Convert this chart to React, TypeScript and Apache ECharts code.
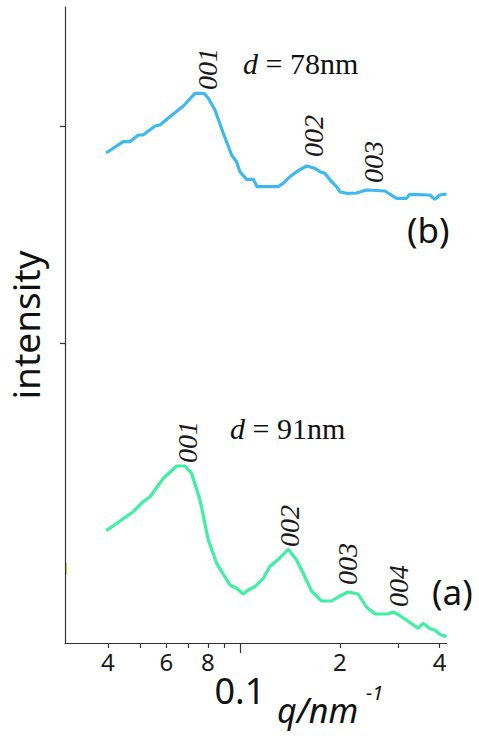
import React, { useEffect, useRef } from "react";
import * as echarts from "echarts";

// ---- data (q in nm^-1, intensity in arbitrary offset units) ----
const qB = [0.0395, 0.0445, 0.0466, 0.0494, 0.0511, 0.0555, 0.0574, 0.0602, 0.0675, 0.0732, 0.0779, 0.0803, 0.0841, 0.0891, 0.0944, 0.0977, 0.1, 0.1047, 0.1097, 0.1127, 0.1304, 0.135, 0.1415, 0.1482, 0.1588, 0.1682, 0.1742, 0.1803, 0.1889, 0.1956, 0.2001, 0.2096, 0.2247, 0.2407, 0.2734, 0.2965, 0.3178, 0.3252, 0.3735, 0.3867, 0.4004, 0.4195];
const yB = [4.9, 5.013, 5.013, 5.08, 5.08, 5.17, 5.18, 5.237, 5.37, 5.497, 5.497, 5.447, 5.33, 5.097, 4.88, 4.813, 4.713, 4.637, 4.637, 4.563, 4.563, 4.597, 4.663, 4.713, 4.77, 4.747, 4.713, 4.697, 4.613, 4.563, 4.513, 4.497, 4.5, 4.53, 4.52, 4.447, 4.447, 4.487, 4.48, 4.437, 4.48, 4.49];

const qA = [0.0395, 0.0477, 0.0511, 0.0536, 0.0588, 0.0645, 0.0683, 0.0715, 0.0758, 0.0803, 0.0851, 0.0933, 0.0977, 0.1023, 0.1059, 0.111, 0.1176, 0.1231, 0.1319, 0.1398, 0.1482, 0.1551, 0.1644, 0.1762, 0.1889, 0.2001, 0.212, 0.2272, 0.2407, 0.2551, 0.2797, 0.2895, 0.2998, 0.3141, 0.3367, 0.3444, 0.3566, 0.3735, 0.3867, 0.4004, 0.4195];
const yA = [1.123, 1.313, 1.413, 1.463, 1.647, 1.77, 1.77, 1.697, 1.43, 1.03, 0.797, 0.58, 0.547, 0.49, 0.53, 0.563, 0.647, 0.765, 0.85, 0.937, 0.83, 0.697, 0.52, 0.42, 0.42, 0.47, 0.51, 0.49, 0.36, 0.29, 0.29, 0.31, 0.285, 0.24, 0.17, 0.147, 0.197, 0.145, 0.13, 0.087, 0.063];

const peakLabelsB = ["001", "002", "003"];
const peakQB = [0.0799, 0.167, 0.2533];
const peakYB = [5.53, 4.86, 4.6];

const peakLabelsA = ["001", "002", "003", "004"];
const peakQA = [0.0697, 0.1415, 0.2116, 0.3013];
const peakYA = [1.8, 0.96, 0.58, 0.36];

const xTickValues = [0.04, 0.05, 0.06, 0.07, 0.08, 0.09, 0.2, 0.3, 0.4];
const xLabelValues = [0.04, 0.06, 0.08, 0.2, 0.4];
const xLabelTexts = ["4", "6", "8", "2", "4"];
const xMajorValues = [0.1];
const xMajorTexts = ["0.1"];
const yTickValues = [3.0, 5.17];

const X_MIN = 0.0297;
const X_MAX = 0.42;
const Y_MIN = 0;
const Y_MAX = 6.36;

const BLUE = "#3fb8f0";
const GREEN = "#3ef0a0";
const AXIS = "#333";

function labelFor(values: number[], texts: string[]) {
  return (v: number) => {
    const q = v > 0 ? v : Math.pow(10, v);
    let best = 0;
    let bd = Infinity;
    values.forEach((t, i) => {
      const d = Math.abs(Math.log10(t) - Math.log10(q));
      if (d < bd) { bd = d; best = i; }
    });
    return bd < 0.01 ? texts[best] : "";
  };
}

function peakMarks(labels: string[], qs: number[], ys: number[]) {
  return {
    symbol: "circle",
    symbolSize: 1,
    itemStyle: { color: "rgba(0,0,0,0)" },
    label: {
      show: true,
      position: "inside",
      rotate: 90,
      align: "left",
      verticalAlign: "middle",
      fontFamily: "Liberation Serif",
      fontStyle: "italic",
      fontSize: 28,
      color: "#1a1a1a",
      formatter: (p: any) => p.name,
    },
    data: labels.map((l, i) => ({ name: l, coord: [qs[i], ys[i]] })),
  };
}

export default function App() {
  const ref = useRef<HTMLDivElement>(null);
  useEffect(() => {
    if (!ref.current) return;
    const chart = echarts.init(ref.current, null, { renderer: "svg" });
    chart.setOption({
      animation: false,
      backgroundColor: "#ffffff",
      grid: { left: 65, right: 32.3, top: 7, bottom: 93, containLabel: false, outerBoundsMode: "none" },
      xAxis: [
        {
          type: "log",
          logBase: 10,
          min: X_MIN,
          max: X_MAX,
          position: "bottom",
          axisLine: { show: true, lineStyle: { color: AXIS, width: 1.2 } },
          axisTick: { show: true, customValues: xTickValues, length: 5, lineStyle: { color: AXIS, width: 1.2 } },
          axisLabel: {
            show: true,
            customValues: xLabelValues,
            formatter: labelFor(xLabelValues, xLabelTexts),
            fontFamily: "Noto Sans",
            fontSize: 24,
            color: "#1a1a1a",
            margin: 6,
          },
          splitLine: { show: false },
          minorTick: { show: false },
        },
        {
          type: "log",
          logBase: 10,
          min: X_MIN,
          max: X_MAX,
          position: "bottom",
          axisLine: { show: false },
          axisTick: { show: true, customValues: xMajorValues, length: 10, lineStyle: { color: AXIS, width: 1.2 } },
          axisLabel: {
            show: true,
            customValues: xMajorValues,
            formatter: labelFor(xMajorValues, xMajorTexts),
            fontFamily: "Noto Sans",
            fontSize: 36,
            color: "#111",
            margin: 29,
          },
          splitLine: { show: false },
        },
      ],
      yAxis: {
        type: "value",
        min: Y_MIN,
        max: Y_MAX,
        name: "intensity",
        nameLocation: "middle",
        nameRotate: 90,
        nameGap: 21,
        nameTextStyle: { fontFamily: "Noto Sans", fontSize: 37, lineHeight: 38, color: "#111" },
        axisLine: { show: true, lineStyle: { color: AXIS, width: 1.2 } },
        axisTick: { show: true, customValues: yTickValues, length: 5, lineStyle: { color: AXIS, width: 1.2 } },
        axisLabel: { show: false },
        splitLine: { show: false },
      },
      series: [
        {
          name: "(b)",
          type: "line",
          xAxisIndex: 0,
          data: qB.map((q, i) => [q, yB[i]]),
          showSymbol: false,
          lineStyle: { color: BLUE, width: 3.2 },
          itemStyle: { color: BLUE },
          markPoint: peakMarks(peakLabelsB, peakQB, peakYB),
        },
        {
          name: "(a)",
          type: "line",
          xAxisIndex: 0,
          data: qA.map((q, i) => [q, yA[i]]),
          showSymbol: false,
          lineStyle: { color: GREEN, width: 3.2 },
          itemStyle: { color: GREEN },
          markPoint: peakMarks(peakLabelsA, peakQA, peakYA),
        },
      ],
      graphic: [
        {
          type: "text",
          left: 243,
          top: 48,
          style: {
            text: "{i|d} = 78nm",
            fill: "#111",
            font: '30px "Liberation Serif"',
            rich: { i: { fontStyle: "italic", fontFamily: "Liberation Serif", fontSize: 30, fill: "#111" } },
          },
        },
        {
          type: "text",
          left: 230,
          top: 413,
          style: {
            text: "{i|d} = 91nm",
            fill: "#111",
            font: '30px "Liberation Serif"',
            rich: { i: { fontStyle: "italic", fontFamily: "Liberation Serif", fontSize: 30, fill: "#111" } },
          },
        },
        { type: "text", left: 407, top: 212, style: { text: "(b)", fill: "#111", font: '35px "Noto Sans"' } },
        { type: "text", left: 432, top: 574, style: { text: "(a)", fill: "#111", font: '35px "Noto Sans"' } },
        { type: "text", left: 277, top: 693, style: { text: "q/nm", fill: "#111", font: 'italic 34px "Noto Sans"' } },
        { type: "text", left: 366, top: 682, style: { text: "-1", fill: "#111", font: 'italic 20px "Noto Sans"' } },
        { type: "line", shape: { x1: 66, y1: 563, x2: 66, y2: 575 }, style: { stroke: "#c4ec3a", lineWidth: 2 } },
      ],
    });
    return () => chart.dispose();
  }, []);
  return <div ref={ref} style={{ position: "fixed", left: 0, top: 0, width: 479, height: 736 }} />;
}
